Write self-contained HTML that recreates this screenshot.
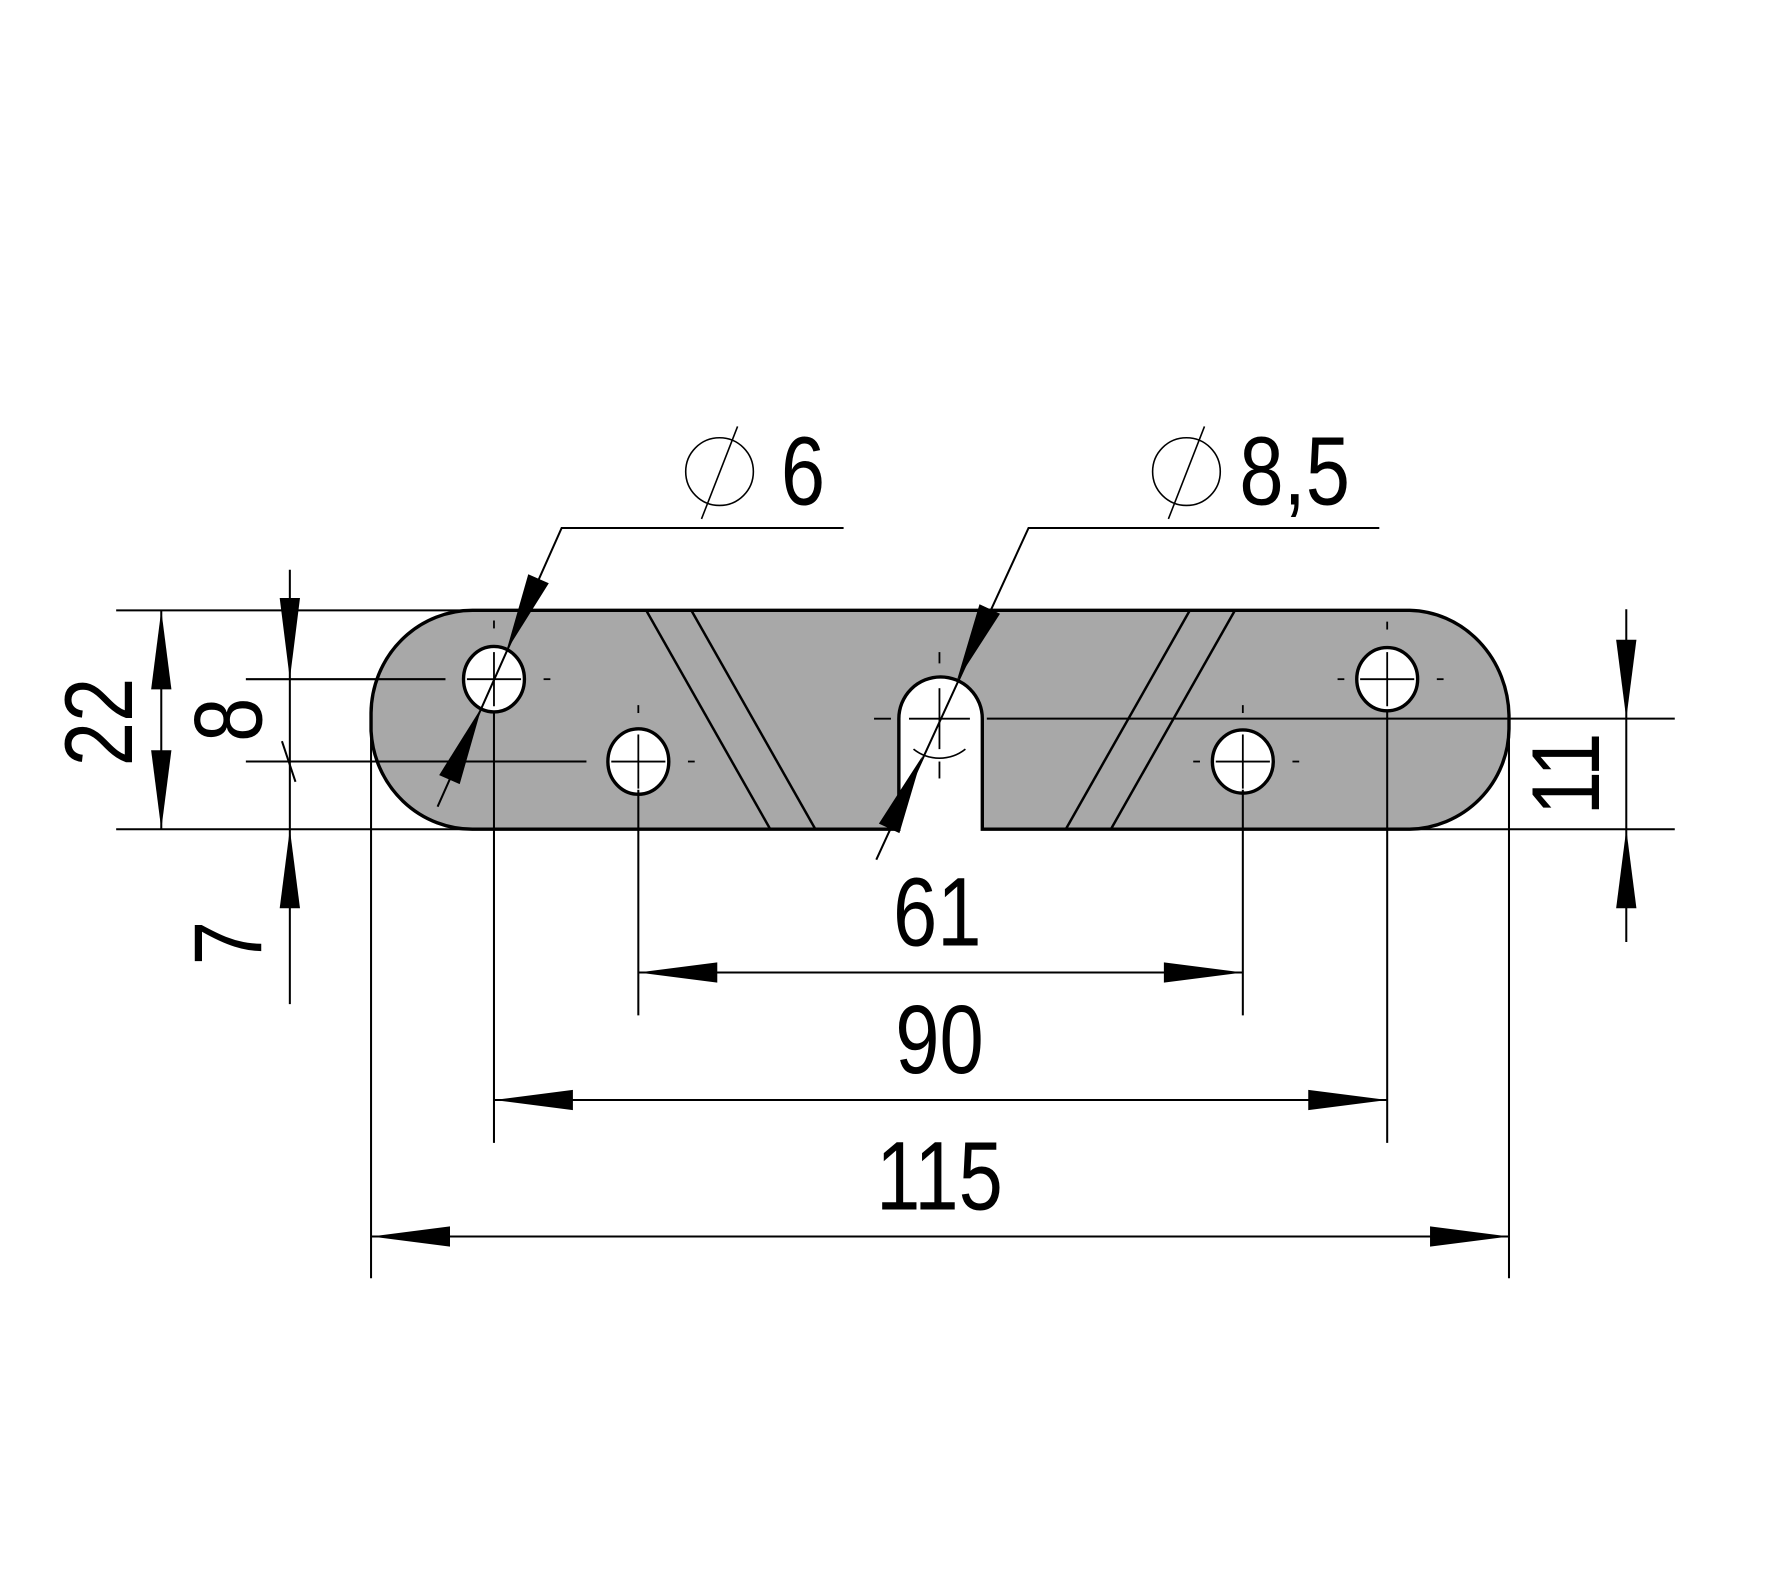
<!DOCTYPE html>
<html><head><meta charset="utf-8"><style>html,body{margin:0;padding:0;background:#fff}svg{display:block}</style></head>
<body>
<svg width="1765" height="1584" viewBox="0 0 1565 1404" preserveAspectRatio="none" xmlns="http://www.w3.org/2000/svg">
<rect width="1565" height="1404" fill="#fff"/>
<!-- plate -->
<path d="M420,541 L1250,541 A90,95 0 0 1 1338,634 L1338,646 A90,90 0 0 1 1250,735 L871,735 L871,637 A37,37 0 0 0 797,637 L797,735 L420,735 A90,92 0 0 1 329,648 L329,632 A90,92 0 0 1 420,541 Z" fill="#a8a8a8" stroke="#000" stroke-width="3"/>
<!-- slot circle remnant -->
<path d="M810,664 A37,37 0 0 0 856,664" fill="none" stroke="#000" stroke-width="1.5"/>
<!-- diagonal lines -->
<g stroke="#000" stroke-width="2.2">
<line x1="573" y1="541" x2="683" y2="735"/>
<line x1="613" y1="541" x2="723" y2="735"/>
<line x1="1055" y1="541" x2="945" y2="735"/>
<line x1="1095" y1="541" x2="985" y2="735"/>
</g>
<!-- holes -->
<g fill="#fff" stroke="#000" stroke-width="3">
<ellipse cx="438" cy="602" rx="27" ry="29"/>
<ellipse cx="566" cy="675" rx="27" ry="29"/>
<ellipse cx="1102" cy="675" rx="27" ry="28"/>
<ellipse cx="1230" cy="602" rx="27" ry="28"/>
</g>
<!-- hole crosses and center marks -->
<g stroke="#000" stroke-width="1.6">
<line x1="414" y1="602" x2="462" y2="602"/><line x1="438" y1="578" x2="438" y2="626"/>
<line x1="542" y1="675" x2="590" y2="675"/><line x1="566" y1="651" x2="566" y2="699"/>
<line x1="1078" y1="675" x2="1126" y2="675"/><line x1="1102" y1="651" x2="1102" y2="699"/>
<line x1="1206" y1="602" x2="1254" y2="602"/><line x1="1230" y1="578" x2="1230" y2="626"/>
<line x1="806" y1="637" x2="860" y2="637"/><line x1="833" y1="610" x2="833" y2="664"/>
<line x1="438" y1="550" x2="438" y2="557"/><line x1="482" y1="602" x2="488" y2="602"/>
<line x1="566" y1="625" x2="566" y2="632"/><line x1="610" y1="675" x2="616" y2="675"/>
<line x1="1102" y1="625" x2="1102" y2="632"/><line x1="1058" y1="675" x2="1064" y2="675"/><line x1="1146" y1="675" x2="1152" y2="675"/>
<line x1="1230" y1="551" x2="1230" y2="558"/><line x1="1186" y1="602" x2="1192" y2="602"/><line x1="1274" y1="602" x2="1280" y2="602"/>
<line x1="833" y1="578" x2="833" y2="588"/><line x1="833" y1="675" x2="833" y2="690"/><line x1="775" y1="637" x2="790" y2="637"/>
</g>
<!-- extension / dimension lines -->
<g stroke="#000" stroke-width="1.8" fill="none">
<line x1="103" y1="541" x2="420" y2="541"/>
<line x1="103" y1="735" x2="420" y2="735"/>
<line x1="143" y1="541" x2="143" y2="735"/>
<line x1="257" y1="505" x2="257" y2="890"/>
<line x1="218" y1="602" x2="395" y2="602"/>
<line x1="218" y1="675" x2="520" y2="675"/>
<line x1="250" y1="657" x2="262" y2="693"/>
<line x1="875" y1="637" x2="1485" y2="637"/>
<line x1="1250" y1="735" x2="1485" y2="735"/>
<line x1="1442" y1="540" x2="1442" y2="835"/>
<line x1="566" y1="700" x2="566" y2="900"/>
<line x1="1102" y1="700" x2="1102" y2="900"/>
<line x1="566" y1="862" x2="1102" y2="862"/>
<line x1="438" y1="630" x2="438" y2="1013"/>
<line x1="1230" y1="630" x2="1230" y2="1013"/>
<line x1="438" y1="975" x2="1230" y2="975"/>
<line x1="329" y1="650" x2="329" y2="1133"/>
<line x1="1338" y1="646" x2="1338" y2="1133"/>
<line x1="329" y1="1096" x2="1338" y2="1096"/>
<polyline points="388,715 498,468 748,468"/>
<polyline points="777,762 912,468 1223,468"/>
<circle cx="638" cy="418" r="30" stroke-width="1.4"/>
<line x1="654" y1="378" x2="622" y2="460" stroke-width="1.4"/>
<circle cx="1052" cy="418" r="30" stroke-width="1.4"/>
<line x1="1068" y1="378" x2="1036" y2="460" stroke-width="1.4"/>
</g>
<!-- arrowheads -->
<g fill="#000">
<polygon points="143,541 134,611 152,611"/>
<polygon points="143,735 134,665 152,665"/>
<polygon points="257,602 248,530 266,530"/>
<polygon points="257,735 248,805 266,805"/>
<polygon points="1442,637 1433,567 1451,567"/>
<polygon points="1442,735 1433,805 1451,805"/>
<polygon points="566,862 636,853 636,871"/>
<polygon points="1102,862 1032,853 1032,871"/>
<polygon points="438,975 508,966 508,984"/>
<polygon points="1230,975 1160,966 1160,984"/>
<polygon points="329,1096 399,1087 399,1105"/>
<polygon points="1338,1096 1268,1087 1268,1105"/>
<polygon points="449,577 486.6,517 468.4,509"/>
<polygon points="427,627 407.6,695 389.4,687"/>
<polygon points="848.4,603.4 886.7,544 868.5,535.6"/>
<polygon points="817.6,670.6 797.5,738.4 779.3,730"/>
</g>
<!-- text -->
<g font-family="'Liberation Sans', sans-serif" font-size="86" fill="#000">
<text transform="translate(712,447) scale(0.82,1)" text-anchor="middle">6</text>
<text transform="translate(1148,447) scale(0.82,1)" text-anchor="middle">8,5</text>
<text transform="translate(831,838) scale(0.82,1)" text-anchor="middle">61</text>
<text transform="translate(833,951) scale(0.82,1)" text-anchor="middle">90</text>
<text transform="translate(833,1072) scale(0.82,1)" text-anchor="middle">115</text>
<text transform="translate(117,640) rotate(-90) scale(0.82,1)" text-anchor="middle">22</text>
<text transform="translate(232,638) rotate(-90) scale(0.82,1)" text-anchor="middle">8</text>
<text transform="translate(232,836) rotate(-90) scale(0.82,1)" text-anchor="middle">7</text>
<text transform="translate(1418,686) rotate(-90) scale(0.82,1)" text-anchor="middle">11</text>
</g>
</svg>
</body></html>
